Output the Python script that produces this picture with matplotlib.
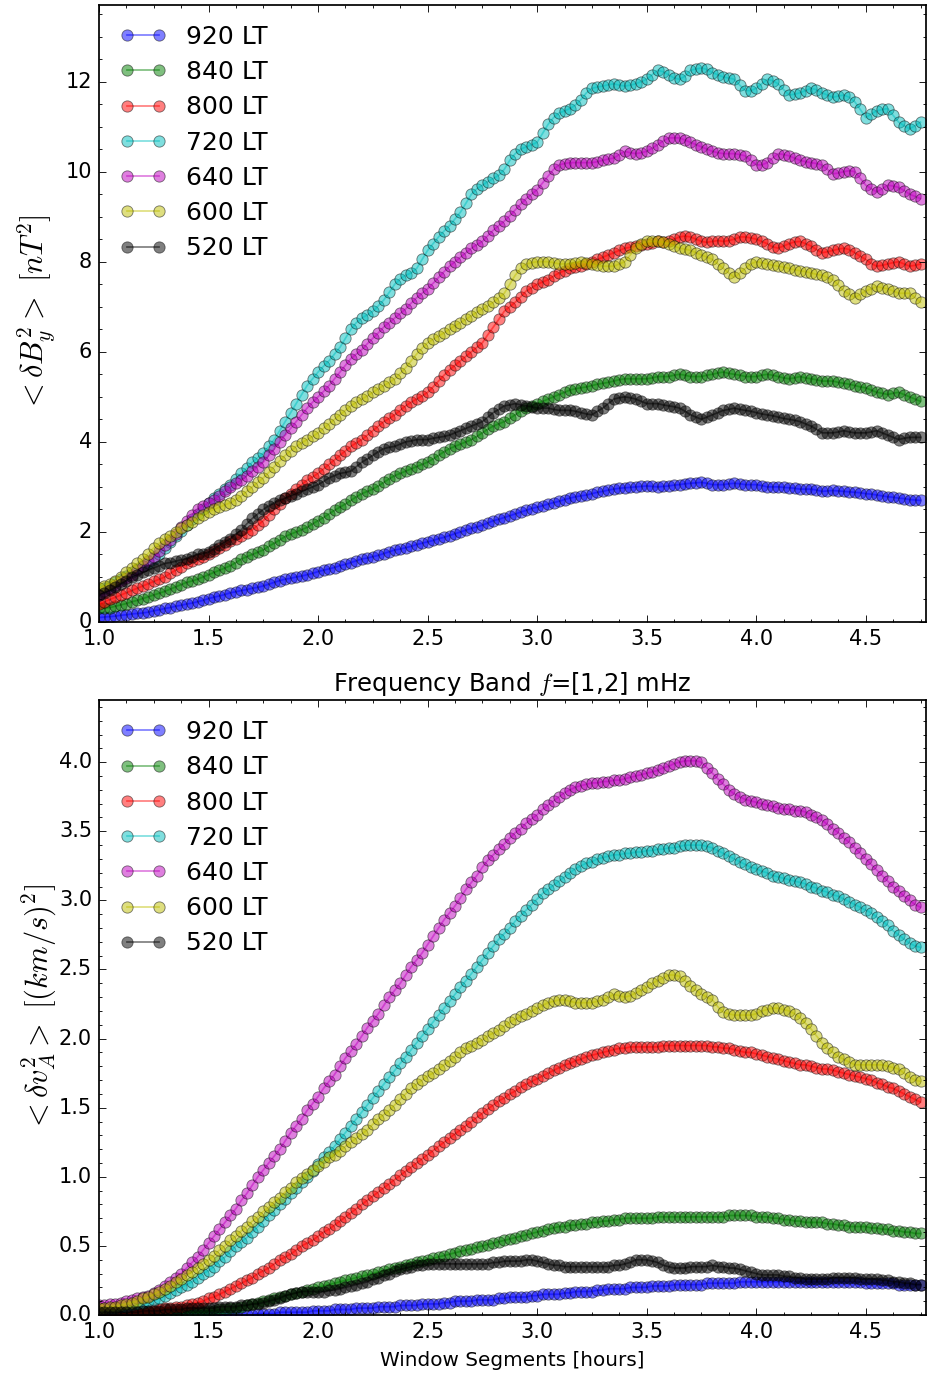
import matplotlib
matplotlib.use('Agg')
import matplotlib.pyplot as plt
import numpy as np
from matplotlib.ticker import MultipleLocator

plt.style.use('classic')

# window length in hours, sampled every 0.025 h
hours = np.linspace(1.0, 4.75, 151)

labels = ['920 LT', '840 LT', '800 LT', '720 LT', '640 LT', '600 LT', '520 LT']
colors = ['b', 'g', 'r', 'c', 'm', 'y', 'k']

# <dB_y^2> [nT^2]
by_920 = [0.10, 0.11, 0.12, 0.13, 0.15, 0.16, 0.18, 0.19, 0.20, 0.22,
          0.25, 0.27, 0.30, 0.32, 0.35, 0.37, 0.40, 0.42, 0.45, 0.48,
          0.52, 0.55, 0.58, 0.61, 0.65, 0.67, 0.70, 0.72, 0.75, 0.77,
          0.80, 0.84, 0.88, 0.92, 0.95, 0.97, 1.00, 1.02, 1.05, 1.08,
          1.12, 1.15, 1.18, 1.21, 1.25, 1.28, 1.32, 1.36, 1.40, 1.42,
          1.45, 1.48, 1.52, 1.56, 1.60, 1.62, 1.65, 1.68, 1.72, 1.75,
          1.78, 1.81, 1.85, 1.88, 1.92, 1.96, 2.00, 2.04, 2.08, 2.11,
          2.15, 2.20, 2.25, 2.28, 2.32, 2.36, 2.40, 2.44, 2.48, 2.52,
          2.55, 2.58, 2.62, 2.65, 2.68, 2.72, 2.75, 2.78, 2.80, 2.82,
          2.85, 2.88, 2.90, 2.93, 2.95, 2.97, 2.98, 2.99, 3.00, 3.01,
          3.02, 3.01, 3.00, 3.01, 3.02, 3.04, 3.05, 3.07, 3.08, 3.09,
          3.10, 3.08, 3.05, 3.05, 3.05, 3.07, 3.08, 3.07, 3.05, 3.05,
          3.05, 3.03, 3.00, 3.00, 3.00, 2.99, 2.98, 2.97, 2.95, 2.95,
          2.95, 2.93, 2.90, 2.91, 2.92, 2.91, 2.90, 2.89, 2.88, 2.87,
          2.85, 2.84, 2.82, 2.80, 2.78, 2.77, 2.75, 2.74, 2.72, 2.71,
          2.70]
by_840 = [0.30, 0.31, 0.32, 0.35, 0.38, 0.41, 0.45, 0.48, 0.52, 0.56,
          0.60, 0.64, 0.68, 0.73, 0.78, 0.83, 0.88, 0.91, 0.95, 1.00,
          1.05, 1.10, 1.15, 1.20, 1.25, 1.32, 1.40, 1.45, 1.50, 1.55,
          1.60, 1.68, 1.75, 1.82, 1.90, 1.95, 2.00, 2.05, 2.10, 2.18,
          2.25, 2.32, 2.40, 2.48, 2.55, 2.62, 2.70, 2.78, 2.85, 2.90,
          2.95, 3.02, 3.10, 3.18, 3.25, 3.30, 3.35, 3.40, 3.45, 3.50,
          3.55, 3.62, 3.70, 3.78, 3.85, 3.90, 3.95, 4.00, 4.05, 4.12,
          4.20, 4.28, 4.35, 4.40, 4.45, 4.52, 4.60, 4.68, 4.75, 4.80,
          4.85, 4.90, 4.95, 5.00, 5.05, 5.10, 5.15, 5.18, 5.20, 5.22,
          5.25, 5.28, 5.30, 5.32, 5.35, 5.38, 5.40, 5.40, 5.40, 5.40,
          5.40, 5.42, 5.45, 5.45, 5.45, 5.48, 5.50, 5.48, 5.45, 5.45,
          5.45, 5.48, 5.50, 5.53, 5.55, 5.52, 5.50, 5.48, 5.45, 5.45,
          5.45, 5.48, 5.50, 5.48, 5.45, 5.42, 5.40, 5.42, 5.45, 5.42,
          5.40, 5.38, 5.35, 5.35, 5.35, 5.32, 5.30, 5.28, 5.25, 5.22,
          5.20, 5.15, 5.10, 5.08, 5.05, 5.08, 5.10, 5.05, 5.00, 4.95,
          4.90]
by_800 = [0.40, 0.45, 0.50, 0.55, 0.60, 0.65, 0.70, 0.75, 0.80, 0.85,
          0.90, 0.95, 1.00, 1.08, 1.15, 1.22, 1.30, 1.35, 1.40, 1.45,
          1.50, 1.58, 1.65, 1.72, 1.80, 1.85, 1.90, 1.98, 2.05, 2.15,
          2.25, 2.38, 2.50, 2.62, 2.75, 2.85, 2.95, 3.05, 3.15, 3.22,
          3.30, 3.40, 3.50, 3.60, 3.70, 3.80, 3.90, 3.98, 4.05, 4.15,
          4.25, 4.35, 4.45, 4.52, 4.60, 4.70, 4.80, 4.88, 4.95, 5.02,
          5.10, 5.22, 5.35, 5.48, 5.60, 5.70, 5.80, 5.90, 6.00, 6.10,
          6.20, 6.38, 6.55, 6.72, 6.90, 7.00, 7.10, 7.22, 7.35, 7.42,
          7.50, 7.55, 7.60, 7.68, 7.75, 7.80, 7.85, 7.88, 7.90, 7.95,
          8.00, 8.05, 8.10, 8.15, 8.20, 8.25, 8.30, 8.32, 8.35, 8.38,
          8.40, 8.42, 8.45, 8.43, 8.45, 8.50, 8.55, 8.57, 8.55, 8.50,
          8.45, 8.43, 8.45, 8.47, 8.45, 8.47, 8.50, 8.55, 8.55, 8.53,
          8.50, 8.45, 8.40, 8.33, 8.30, 8.35, 8.40, 8.44, 8.45, 8.40,
          8.35, 8.27, 8.20, 8.22, 8.25, 8.28, 8.30, 8.27, 8.20, 8.12,
          8.05, 7.96, 7.90, 7.92, 7.95, 7.98, 8.00, 7.95, 7.90, 7.92,
          7.95]
by_720 = [0.70, 0.75, 0.80, 0.88, 0.95, 1.02, 1.10, 1.18, 1.25, 1.32,
          1.40, 1.52, 1.65, 1.78, 1.90, 2.02, 2.15, 2.28, 2.40, 2.52,
          2.65, 2.75, 2.85, 2.95, 3.05, 3.18, 3.30, 3.42, 3.55, 3.65,
          3.75, 3.90, 4.05, 4.25, 4.45, 4.65, 4.85, 5.05, 5.25, 5.40,
          5.55, 5.68, 5.80, 5.95, 6.10, 6.30, 6.50, 6.65, 6.75, 6.82,
          6.90, 7.02, 7.15, 7.32, 7.50, 7.62, 7.70, 7.75, 7.85, 8.05,
          8.25, 8.40, 8.55, 8.68, 8.80, 8.95, 9.10, 9.30, 9.50, 9.62,
          9.70, 9.78, 9.85, 9.92, 10.05, 10.25, 10.40, 10.50, 10.55, 10.60,
          10.65, 10.85, 11.05, 11.20, 11.30, 11.35, 11.40, 11.48, 11.60, 11.75,
          11.85, 11.88, 11.90, 11.93, 11.95, 11.92, 11.90, 11.92, 11.95, 12.00,
          12.05, 12.15, 12.25, 12.22, 12.15, 12.08, 12.05, 12.12, 12.25, 12.28,
          12.30, 12.27, 12.20, 12.15, 12.10, 12.08, 12.05, 11.92, 11.80, 11.80,
          11.85, 11.95, 12.05, 12.02, 11.95, 11.82, 11.70, 11.72, 11.75, 11.80,
          11.85, 11.82, 11.75, 11.70, 11.65, 11.68, 11.70, 11.65, 11.55, 11.38,
          11.20, 11.28, 11.35, 11.38, 11.40, 11.25, 11.10, 11.02, 10.95, 11.02,
          11.10]
by_640 = [0.60, 0.68, 0.75, 0.82, 0.90, 0.98, 1.05, 1.15, 1.25, 1.35,
          1.45, 1.58, 1.70, 1.82, 1.95, 2.10, 2.25, 2.38, 2.50, 2.58,
          2.65, 2.72, 2.80, 2.90, 3.00, 3.08, 3.15, 3.25, 3.35, 3.45,
          3.55, 3.70, 3.85, 4.00, 4.15, 4.30, 4.45, 4.60, 4.75, 4.88,
          5.00, 5.12, 5.25, 5.40, 5.55, 5.70, 5.85, 5.95, 6.05, 6.18,
          6.30, 6.42, 6.55, 6.65, 6.75, 6.85, 6.95, 7.08, 7.20, 7.30,
          7.40, 7.52, 7.65, 7.78, 7.90, 8.00, 8.10, 8.20, 8.30, 8.38,
          8.45, 8.58, 8.70, 8.80, 8.90, 9.02, 9.15, 9.28, 9.40, 9.50,
          9.60, 9.75, 9.90, 10.05, 10.15, 10.18, 10.20, 10.20, 10.20, 10.20,
          10.20, 10.22, 10.25, 10.28, 10.30, 10.38, 10.45, 10.42, 10.40, 10.42,
          10.45, 10.52, 10.60, 10.68, 10.75, 10.75, 10.75, 10.70, 10.65, 10.60,
          10.55, 10.50, 10.45, 10.42, 10.40, 10.40, 10.40, 10.38, 10.35, 10.25,
          10.15, 10.15, 10.20, 10.30, 10.40, 10.38, 10.35, 10.30, 10.25, 10.22,
          10.20, 10.18, 10.15, 10.05, 9.95, 9.97, 10.00, 10.02, 10.00, 9.85,
          9.70, 9.62, 9.55, 9.62, 9.70, 9.68, 9.65, 9.58, 9.50, 9.45,
          9.40]
by_600 = [0.75, 0.80, 0.85, 0.92, 1.00, 1.10, 1.20, 1.30, 1.40, 1.52,
          1.65, 1.75, 1.85, 1.92, 2.00, 2.08, 2.15, 2.22, 2.30, 2.38,
          2.45, 2.50, 2.55, 2.60, 2.65, 2.72, 2.80, 2.90, 3.00, 3.10,
          3.20, 3.32, 3.45, 3.58, 3.70, 3.80, 3.90, 3.98, 4.05, 4.12,
          4.20, 4.30, 4.40, 4.50, 4.60, 4.70, 4.80, 4.88, 4.95, 5.02,
          5.10, 5.18, 5.25, 5.32, 5.40, 5.52, 5.65, 5.80, 5.95, 6.08,
          6.20, 6.28, 6.35, 6.42, 6.50, 6.58, 6.65, 6.72, 6.80, 6.88,
          6.95, 7.02, 7.10, 7.20, 7.30, 7.50, 7.70, 7.85, 7.95, 7.98,
          8.00, 8.00, 8.00, 7.98, 7.95, 7.95, 7.95, 7.98, 8.00, 7.98,
          7.95, 7.92, 7.90, 7.90, 7.90, 7.95, 8.00, 8.15, 8.30, 8.40,
          8.45, 8.45, 8.45, 8.43, 8.40, 8.35, 8.30, 8.28, 8.25, 8.20,
          8.15, 8.10, 8.05, 7.95, 7.85, 7.75, 7.65, 7.75, 7.85, 7.95,
          8.00, 7.98, 7.95, 7.92, 7.90, 7.88, 7.85, 7.82, 7.80, 7.78,
          7.75, 7.72, 7.70, 7.65, 7.60, 7.48, 7.35, 7.28, 7.20, 7.28,
          7.35, 7.40, 7.45, 7.42, 7.40, 7.35, 7.30, 7.30, 7.30, 7.20,
          7.10]
by_520 = [0.60, 0.65, 0.70, 0.78, 0.85, 0.92, 1.00, 1.05, 1.10, 1.15,
          1.20, 1.25, 1.30, 1.32, 1.35, 1.38, 1.40, 1.45, 1.50, 1.52,
          1.55, 1.62, 1.70, 1.78, 1.85, 1.95, 2.05, 2.18, 2.30, 2.40,
          2.50, 2.58, 2.65, 2.70, 2.75, 2.80, 2.85, 2.90, 2.95, 3.00,
          3.05, 3.12, 3.20, 3.25, 3.30, 3.32, 3.35, 3.45, 3.55, 3.62,
          3.70, 3.78, 3.85, 3.88, 3.90, 3.95, 4.00, 4.02, 4.05, 4.05,
          4.05, 4.08, 4.10, 4.12, 4.15, 4.20, 4.25, 4.30, 4.35, 4.40,
          4.45, 4.55, 4.65, 4.72, 4.80, 4.82, 4.85, 4.82, 4.80, 4.78,
          4.75, 4.75, 4.75, 4.72, 4.70, 4.70, 4.70, 4.68, 4.65, 4.62,
          4.60, 4.68, 4.75, 4.85, 4.95, 4.98, 5.00, 4.98, 4.95, 4.90,
          4.85, 4.85, 4.85, 4.82, 4.80, 4.78, 4.75, 4.68, 4.60, 4.55,
          4.50, 4.55, 4.60, 4.65, 4.70, 4.72, 4.75, 4.72, 4.70, 4.68,
          4.65, 4.62, 4.60, 4.58, 4.55, 4.52, 4.50, 4.48, 4.45, 4.40,
          4.35, 4.28, 4.20, 4.20, 4.20, 4.22, 4.25, 4.22, 4.20, 4.20,
          4.20, 4.22, 4.25, 4.20, 4.15, 4.10, 4.05, 4.08, 4.10, 4.10,
          4.10]

# <dv_A^2> [(km/s)^2]
va_920 = [0.00, 0.00, 0.00, 0.00, 0.00, 0.00, 0.00, 0.00, 0.00, 0.00,
          0.00, 0.00, 0.00, 0.00, 0.00, 0.00, 0.00, 0.00, 0.00, 0.00,
          0.00, 0.00, 0.00, 0.00, 0.00, 0.00, 0.00, 0.00, 0.00, 0.01,
          0.01, 0.01, 0.01, 0.02, 0.02, 0.02, 0.02, 0.02, 0.02, 0.03,
          0.03, 0.03, 0.03, 0.04, 0.04, 0.04, 0.04, 0.05, 0.05, 0.05,
          0.05, 0.06, 0.06, 0.06, 0.06, 0.07, 0.07, 0.07, 0.07, 0.08,
          0.08, 0.08, 0.08, 0.09, 0.09, 0.10, 0.10, 0.10, 0.10, 0.11,
          0.11, 0.11, 0.11, 0.12, 0.12, 0.13, 0.13, 0.13, 0.13, 0.14,
          0.14, 0.15, 0.15, 0.15, 0.15, 0.16, 0.16, 0.17, 0.17, 0.17,
          0.17, 0.18, 0.18, 0.19, 0.19, 0.19, 0.19, 0.20, 0.20, 0.20,
          0.20, 0.21, 0.21, 0.21, 0.21, 0.22, 0.22, 0.22, 0.22, 0.22,
          0.22, 0.23, 0.23, 0.23, 0.23, 0.23, 0.23, 0.24, 0.24, 0.24,
          0.24, 0.24, 0.24, 0.24, 0.24, 0.24, 0.24, 0.24, 0.24, 0.24,
          0.24, 0.24, 0.24, 0.24, 0.24, 0.24, 0.24, 0.24, 0.24, 0.24,
          0.23, 0.23, 0.23, 0.23, 0.23, 0.23, 0.22, 0.22, 0.22, 0.22,
          0.22]
va_840 = [0.02, 0.02, 0.02, 0.02, 0.02, 0.02, 0.02, 0.02, 0.02, 0.02,
          0.02, 0.02, 0.02, 0.02, 0.02, 0.02, 0.02, 0.02, 0.02, 0.02,
          0.03, 0.03, 0.04, 0.04, 0.05, 0.05, 0.06, 0.07, 0.08, 0.09,
          0.10, 0.11, 0.12, 0.13, 0.14, 0.15, 0.16, 0.17, 0.18, 0.19,
          0.20, 0.21, 0.22, 0.23, 0.24, 0.25, 0.26, 0.27, 0.28, 0.29,
          0.30, 0.31, 0.32, 0.33, 0.34, 0.35, 0.36, 0.37, 0.38, 0.39,
          0.40, 0.41, 0.42, 0.43, 0.44, 0.45, 0.46, 0.47, 0.48, 0.49,
          0.50, 0.51, 0.52, 0.53, 0.54, 0.55, 0.56, 0.57, 0.58, 0.59,
          0.60, 0.61, 0.62, 0.63, 0.64, 0.64, 0.65, 0.65, 0.66, 0.66,
          0.67, 0.67, 0.68, 0.68, 0.69, 0.69, 0.70, 0.70, 0.70, 0.70,
          0.70, 0.70, 0.71, 0.71, 0.71, 0.71, 0.71, 0.71, 0.71, 0.71,
          0.71, 0.71, 0.71, 0.71, 0.71, 0.72, 0.72, 0.72, 0.72, 0.72,
          0.71, 0.71, 0.71, 0.70, 0.70, 0.69, 0.69, 0.68, 0.68, 0.67,
          0.67, 0.67, 0.67, 0.66, 0.66, 0.65, 0.65, 0.64, 0.64, 0.64,
          0.64, 0.63, 0.63, 0.62, 0.62, 0.61, 0.61, 0.60, 0.60, 0.59,
          0.59]
va_800 = [0.02, 0.02, 0.02, 0.02, 0.02, 0.02, 0.03, 0.03, 0.03, 0.03,
          0.04, 0.04, 0.05, 0.05, 0.06, 0.06, 0.07, 0.08, 0.09, 0.10,
          0.12, 0.13, 0.15, 0.17, 0.19, 0.21, 0.23, 0.25, 0.27, 0.30,
          0.32, 0.34, 0.37, 0.40, 0.42, 0.44, 0.47, 0.50, 0.52, 0.54,
          0.57, 0.60, 0.62, 0.65, 0.68, 0.71, 0.74, 0.77, 0.80, 0.83,
          0.86, 0.89, 0.92, 0.95, 0.98, 1.01, 1.04, 1.07, 1.10, 1.13,
          1.16, 1.19, 1.22, 1.25, 1.28, 1.31, 1.34, 1.37, 1.40, 1.43,
          1.46, 1.49, 1.52, 1.55, 1.57, 1.60, 1.62, 1.65, 1.67, 1.69,
          1.71, 1.73, 1.75, 1.77, 1.79, 1.81, 1.82, 1.84, 1.85, 1.87,
          1.88, 1.89, 1.90, 1.91, 1.92, 1.93, 1.93, 1.94, 1.94, 1.94,
          1.94, 1.94, 1.94, 1.95, 1.95, 1.95, 1.95, 1.95, 1.95, 1.95,
          1.95, 1.95, 1.94, 1.94, 1.93, 1.93, 1.92, 1.91, 1.90, 1.90,
          1.89, 1.88, 1.87, 1.86, 1.85, 1.84, 1.83, 1.82, 1.81, 1.81,
          1.80, 1.79, 1.78, 1.78, 1.77, 1.76, 1.75, 1.74, 1.73, 1.72,
          1.71, 1.70, 1.68, 1.67, 1.65, 1.64, 1.62, 1.60, 1.58, 1.56,
          1.54]
va_720 = [0.05, 0.05, 0.05, 0.05, 0.06, 0.06, 0.07, 0.08, 0.09, 0.10,
          0.11, 0.12, 0.14, 0.16, 0.18, 0.20, 0.22, 0.24, 0.27, 0.30,
          0.32, 0.35, 0.39, 0.42, 0.46, 0.50, 0.53, 0.56, 0.60, 0.64,
          0.68, 0.72, 0.76, 0.80, 0.84, 0.88, 0.92, 0.96, 1.00, 1.04,
          1.09, 1.14, 1.18, 1.22, 1.27, 1.32, 1.37, 1.42, 1.47, 1.52,
          1.57, 1.62, 1.67, 1.72, 1.77, 1.82, 1.87, 1.92, 1.97, 2.02,
          2.07, 2.12, 2.17, 2.22, 2.27, 2.32, 2.37, 2.42, 2.47, 2.52,
          2.57, 2.62, 2.67, 2.72, 2.76, 2.80, 2.85, 2.89, 2.93, 2.97,
          3.01, 3.05, 3.08, 3.11, 3.14, 3.17, 3.20, 3.23, 3.25, 3.27,
          3.28, 3.30, 3.31, 3.32, 3.33, 3.33, 3.34, 3.34, 3.35, 3.35,
          3.36, 3.36, 3.37, 3.37, 3.38, 3.38, 3.39, 3.40, 3.40, 3.40,
          3.40, 3.39, 3.38, 3.36, 3.34, 3.32, 3.30, 3.28, 3.26, 3.24,
          3.23, 3.21, 3.20, 3.18, 3.17, 3.16, 3.15, 3.14, 3.13, 3.12,
          3.10, 3.09, 3.07, 3.06, 3.04, 3.03, 3.01, 2.99, 2.97, 2.95,
          2.93, 2.91, 2.88, 2.85, 2.82, 2.78, 2.75, 2.72, 2.69, 2.67,
          2.66]
va_640 = [0.07, 0.07, 0.08, 0.08, 0.09, 0.10, 0.11, 0.12, 0.13, 0.14,
          0.16, 0.18, 0.21, 0.24, 0.27, 0.30, 0.34, 0.38, 0.42, 0.47,
          0.52, 0.57, 0.62, 0.67, 0.72, 0.77, 0.83, 0.88, 0.94, 1.00,
          1.05, 1.10, 1.15, 1.20, 1.26, 1.32, 1.37, 1.42, 1.48, 1.53,
          1.58, 1.64, 1.69, 1.74, 1.80, 1.86, 1.91, 1.96, 2.02, 2.08,
          2.13, 2.18, 2.24, 2.30, 2.35, 2.40, 2.46, 2.52, 2.57, 2.62,
          2.68, 2.74, 2.80, 2.86, 2.91, 2.96, 3.02, 3.08, 3.13, 3.18,
          3.24, 3.29, 3.33, 3.37, 3.41, 3.45, 3.49, 3.52, 3.56, 3.59,
          3.62, 3.66, 3.69, 3.72, 3.75, 3.78, 3.80, 3.82, 3.83, 3.84,
          3.85, 3.85, 3.86, 3.86, 3.87, 3.87, 3.88, 3.89, 3.90, 3.91,
          3.92, 3.93, 3.94, 3.96, 3.97, 3.99, 4.00, 4.01, 4.01, 4.01,
          4.00, 3.96, 3.92, 3.88, 3.84, 3.80, 3.77, 3.75, 3.73, 3.72,
          3.71, 3.70, 3.69, 3.68, 3.67, 3.66, 3.66, 3.65, 3.65, 3.64,
          3.62, 3.60, 3.58, 3.55, 3.52, 3.49, 3.45, 3.42, 3.38, 3.34,
          3.30, 3.26, 3.22, 3.18, 3.14, 3.10, 3.07, 3.03, 3.00, 2.97,
          2.95]
va_600 = [0.05, 0.05, 0.06, 0.06, 0.07, 0.08, 0.09, 0.10, 0.12, 0.13,
          0.15, 0.17, 0.19, 0.21, 0.24, 0.26, 0.29, 0.31, 0.34, 0.37,
          0.40, 0.43, 0.47, 0.50, 0.54, 0.57, 0.61, 0.64, 0.68, 0.71,
          0.75, 0.78, 0.82, 0.85, 0.89, 0.92, 0.96, 0.99, 1.02, 1.05,
          1.08, 1.11, 1.14, 1.16, 1.19, 1.22, 1.25, 1.28, 1.31, 1.34,
          1.38, 1.42, 1.45, 1.48, 1.52, 1.56, 1.60, 1.64, 1.67, 1.70,
          1.73, 1.75, 1.78, 1.81, 1.84, 1.87, 1.90, 1.93, 1.95, 1.97,
          1.99, 2.02, 2.04, 2.06, 2.09, 2.12, 2.14, 2.16, 2.18, 2.20,
          2.22, 2.24, 2.26, 2.27, 2.28, 2.28, 2.27, 2.26, 2.26, 2.26,
          2.26, 2.27, 2.28, 2.30, 2.32, 2.31, 2.30, 2.31, 2.33, 2.35,
          2.37, 2.40, 2.42, 2.44, 2.46, 2.46, 2.45, 2.42, 2.38, 2.35,
          2.32, 2.30, 2.28, 2.23, 2.19, 2.18, 2.17, 2.17, 2.17, 2.17,
          2.18, 2.20, 2.21, 2.22, 2.22, 2.21, 2.20, 2.18, 2.15, 2.11,
          2.07, 2.02, 1.97, 1.93, 1.90, 1.87, 1.85, 1.83, 1.81, 1.81,
          1.81, 1.81, 1.81, 1.81, 1.80, 1.79, 1.78, 1.75, 1.72, 1.70,
          1.69]
va_520 = [0.02, 0.02, 0.02, 0.02, 0.02, 0.02, 0.02, 0.02, 0.03, 0.03,
          0.03, 0.03, 0.04, 0.04, 0.04, 0.04, 0.05, 0.05, 0.05, 0.05,
          0.05, 0.05, 0.06, 0.06, 0.06, 0.06, 0.07, 0.07, 0.08, 0.08,
          0.09, 0.10, 0.11, 0.12, 0.14, 0.15, 0.16, 0.17, 0.17, 0.17,
          0.17, 0.17, 0.18, 0.18, 0.19, 0.20, 0.21, 0.22, 0.23, 0.24,
          0.26, 0.27, 0.29, 0.30, 0.32, 0.33, 0.34, 0.35, 0.36, 0.36,
          0.37, 0.37, 0.37, 0.37, 0.37, 0.37, 0.37, 0.37, 0.37, 0.37,
          0.37, 0.37, 0.38, 0.38, 0.39, 0.39, 0.39, 0.39, 0.40, 0.40,
          0.39, 0.38, 0.37, 0.36, 0.36, 0.35, 0.35, 0.35, 0.35, 0.35,
          0.35, 0.35, 0.35, 0.35, 0.36, 0.36, 0.37, 0.38, 0.40, 0.40,
          0.40, 0.39, 0.38, 0.36, 0.35, 0.34, 0.34, 0.34, 0.35, 0.35,
          0.35, 0.35, 0.36, 0.35, 0.35, 0.34, 0.34, 0.33, 0.32, 0.31,
          0.30, 0.29, 0.29, 0.29, 0.29, 0.28, 0.28, 0.27, 0.27, 0.26,
          0.26, 0.26, 0.26, 0.26, 0.27, 0.27, 0.27, 0.27, 0.27, 0.26,
          0.26, 0.26, 0.26, 0.25, 0.25, 0.24, 0.24, 0.23, 0.23, 0.22,
          0.22]

by_series = [by_920, by_840, by_800, by_720, by_640, by_600, by_520]
va_series = [va_920, va_840, va_800, va_720, va_640, va_600, va_520]

W, H, DPI = 927, 1378, 125
fig = plt.figure(figsize=(W / DPI, H / DPI), dpi=DPI)
ax1 = fig.add_axes([99 / W, 1 - 622 / H, 827 / W, 617 / H])
ax2 = fig.add_axes([99 / W, 1 - 1315 / H, 827 / W, 615 / H])


def draw(ax, series):
    for ys, c, lab in zip(series, colors, labels):
        ax.plot(hours, ys, 'o-', color=c, alpha=0.5, markersize=6.5,
                markeredgecolor='k', markeredgewidth=0.5, label=lab)
    ax.set_xlim(1.0, 4.775)
    ax.xaxis.set_major_locator(MultipleLocator(0.5))
    ax.xaxis.set_minor_locator(MultipleLocator(0.125))
    ax.legend(loc='upper left', frameon=False, numpoints=2, fontsize=14.4,
              handlelength=1.9, handletextpad=0.8, labelspacing=0.45,
              borderaxespad=0.4)


draw(ax1, by_series)
ax1.set_ylim(0, 13.7)
ax1.yaxis.set_major_locator(MultipleLocator(2))
ax1.yaxis.set_minor_locator(MultipleLocator(0.5))
ax1.set_ylabel(r'$<\delta B_y^2>\ [nT^2]$', fontsize=17.5)
ax1.yaxis.set_label_coords(-0.05, 0.5)

draw(ax2, va_series)
ax2.set_ylim(0, 4.45)
ax2.yaxis.set_major_locator(MultipleLocator(0.5))
ax2.yaxis.set_minor_locator(MultipleLocator(0.1))
ax2.set_ylabel(r'$<\delta v_A^2>\ [(km/s)^2]$', fontsize=17.5)
ax2.yaxis.set_label_coords(-0.05, 0.5)
ax2.set_title(r'Frequency Band $f$=[1,2] mHz', fontsize=14)
ax2.set_xlabel('Window Segments [hours]', fontsize=11.5)

fig.savefig('out.png', dpi=DPI)
